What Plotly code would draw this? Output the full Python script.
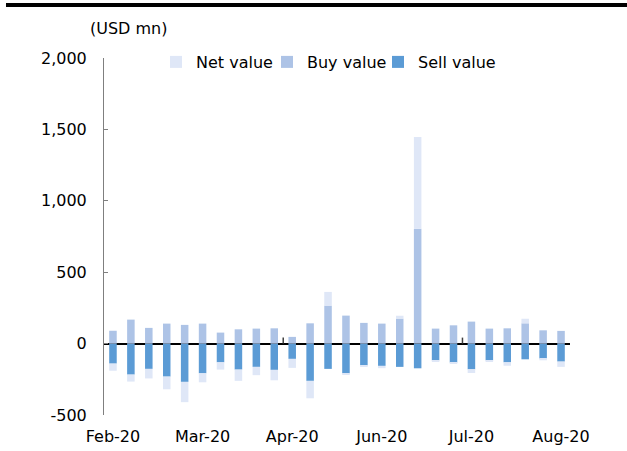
import plotly.graph_objects as go

# weekly observations (index positions), labels shown every 5 weeks
tick_positions = [0, 5, 10, 15, 20, 25]
tick_labels = ["Feb-20", "Mar-20", "Apr-20", "Jun-20", "Jul-20", "Aug-20"]
y_ticks = [-500, 0, 500, 1000, 1500, 2000]
y_tick_labels = ["-500", "0", "500", "1,000", "1,500", "2,000"]

buy_value = [90, 168, 110, 140, 131, 140, 77, 100, 105, 107, 47, 142, 266,
             196, 145, 140, 175, 804, 105, 128, 154, 105, 107, 142, 93, 89]
sell_value = [-140, -217, -177, -231, -268, -208, -131, -182, -163, -184, -107,
              -261, -177, -208, -152, -156, -163, -173, -117, -133, -180, -117,
              -131, -110, -105, -126]
net_value = [-50, -49, -67, -89, -142, -63, -51, -79, -58, -73, -63, -122, 96,
             -12, -7, -16, 20, 643, -10, -6, -26, -12, -24, 32, -12, -37]

x = list(range(len(buy_value)))

c_sell = "#5B9BD5"
c_buy = "#ADC3E6"
c_net = "#DFE7F7"

fig = go.Figure()
fig.add_trace(go.Bar(x=x, y=sell_value, name="Sell value", marker_color=c_sell,
                     marker_line_width=0, width=0.42, legend="legend3"))
fig.add_trace(go.Bar(x=x, y=buy_value, name="Buy value", marker_color=c_buy,
                     marker_line_width=0, width=0.42, legend="legend2"))
fig.add_trace(go.Bar(x=x, y=net_value, name="Net value", marker_color=c_net,
                     marker_line_width=0, width=0.42, legend="legend"))

font = dict(family="DejaVu Sans", size=16, color="#000000")

L, T, W, H = 104, 58, 466, 357


def px(xp):
    return (xp - L) / W


def py(yp):
    return (T + H - yp) / H


leg_common = dict(orientation="h", xanchor="left", y=py(62), yanchor="middle",
                  bgcolor="rgba(0,0,0,0)", font=font)

fig.update_layout(
    width=627, height=451,
    margin=dict(l=L, r=627 - L - W, t=T, b=451 - T - H, autoexpand=False),
    paper_bgcolor="white", plot_bgcolor="white",
    barmode="relative",
    font=font,
    showlegend=True,
    legend=dict(x=px(156), **leg_common),
    legend2=dict(x=px(267), **leg_common),
    legend3=dict(x=px(378), **leg_common),
    xaxis=dict(range=[-0.5, len(x) - 0.5], tickvals=tick_positions, ticktext=tick_labels,
               showline=False, showgrid=False, zeroline=False,
               ticks="outside", ticklen=7, tickcolor="rgba(0,0,0,0)"),
    yaxis=dict(range=[-500, 2000], tickvals=y_ticks, ticktext=y_tick_labels,
               showgrid=False, showline=True, linecolor="#7F7F7F",
               linewidth=1, ticks="inside", ticklen=4, tickcolor="#7F7F7F",
               zeroline=True, zerolinecolor="#000000", zerolinewidth=2,
               ticklabelstandoff=13),
)

# category-axis tick marks (every 10 weeks) rising from the zero line
for b in [9.5, 19.5]:
    fig.add_shape(type="line", xref="x", yref="y", x0=b, x1=b, y0=0, y1=42,
                  line=dict(color="#404040", width=1.5))

# top rule
fig.add_shape(type="line", xref="paper", yref="paper",
              x0=px(6), x1=px(627), y0=py(5), y1=py(5),
              line=dict(color="#000000", width=4))

fig.add_annotation(text="(USD mn)", xref="paper", yref="paper",
                   x=px(88), y=py(28), xanchor="left", yanchor="middle",
                   showarrow=False, font=font)

fig.write_html("out.html", config={"displayModeBar": False},
               post_script="document.body.style.margin='0';")
